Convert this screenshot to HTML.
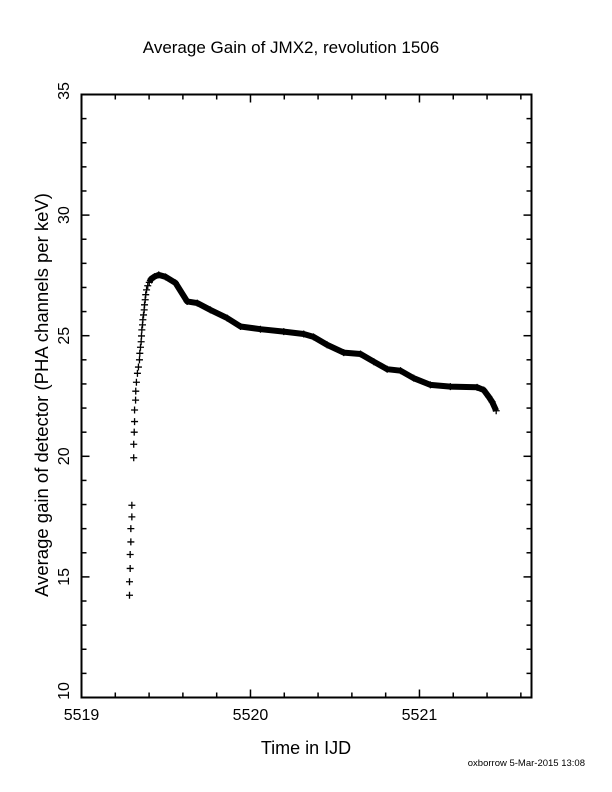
<!DOCTYPE html>
<html><head><meta charset="utf-8"><style>
html,body{margin:0;padding:0;background:#fff}
svg{display:block;font-family:"Liberation Sans",sans-serif}
</style></head><body>
<svg width="612" height="792" viewBox="0 0 612 792">
<text x="291" y="53" font-size="17" text-anchor="middle">Average Gain of JMX2, revolution 1506</text>
<text transform="translate(48,395) rotate(-90)" font-size="18.5" text-anchor="middle">Average gain of detector (PHA channels per keV)</text>
<text x="306" y="754" font-size="18" text-anchor="middle">Time in IJD</text>
<text x="585" y="766" font-size="9.5" text-anchor="end">oxborrow  5-Mar-2015 13:08</text>
<rect x="81.5" y="94.5" width="450" height="603" fill="none" stroke="#000" stroke-width="2"/>
<g id="ticks"></g>
<g id="series"></g>
</svg>
<script>
const xTickLabels=["5519","5520","5521"];
const yTickLabels=["10","15","20","25","30","35"];
const times=[5519.284,5519.284,5519.288,5519.288,5519.292,5519.292,5519.298,5519.298,5519.309,5519.309,5519.312,5519.314,5519.314,5519.320,5519.321,5519.325,5519.331,5519.337,5519.343,5519.345,5519.349,5519.353,5519.355,5519.357,5519.361,5519.363,5519.367,5519.371,5519.373,5519.377,5519.380,5519.385,5519.392,5519.401,5519.412,5519.432,5519.457,5519.497,5519.556,5519.625,5519.685,5519.763,5519.862,5519.941,5520.059,5520.197,5520.315,5520.373,5520.454,5520.552,5520.651,5520.730,5520.809,5520.888,5520.966,5521.065,5521.183,5521.341,5521.380,5521.410,5521.430,5521.454];
const gains=[14.24,14.80,15.35,15.93,16.45,17.00,17.49,17.97,19.94,20.50,21.00,21.44,21.92,22.33,22.70,23.07,23.44,23.70,24.00,24.27,24.52,24.75,24.99,25.24,25.45,25.66,25.86,26.07,26.28,26.49,26.70,26.90,27.07,27.21,27.35,27.45,27.52,27.44,27.19,26.42,26.35,26.07,25.73,25.38,25.27,25.17,25.07,24.95,24.62,24.30,24.24,23.92,23.61,23.55,23.24,22.96,22.89,22.86,22.75,22.47,22.26,21.89];
const X0=81.5,X1=531.5,Y0=697.5,Y1=94.5,TMIN=5519,TMAX=5521.663,GMIN=10,GMAX=35;
function xs(t){return X0+(t-TMIN)/(TMAX-TMIN)*(X1-X0);}
function ys(g){return Y0-(g-GMIN)/(GMAX-GMIN)*(Y0-Y1);}
const NS="http://www.w3.org/2000/svg";
const tk=document.getElementById('ticks');
function line(p,x1,y1,x2,y2,w){const l=document.createElementNS(NS,'line');l.setAttribute('x1',x1);l.setAttribute('y1',y1);l.setAttribute('x2',x2);l.setAttribute('y2',y2);l.setAttribute('stroke','#000');l.setAttribute('stroke-width',w||1.5);p.appendChild(l);return l;}
for(let i=1;i<=13;i++){const t=TMIN+i*0.2;const x=xs(t);const major=(i%5===0);const L=major?8:5;
const a=line(tk,x,Y0,x,Y0-L);


const b=line(tk,x,Y1,x,Y1+L);

}
for(let g=11;g<35;g++){const y=ys(g);const major=(g%5===0);const L=major?8:5;
const a=line(tk,X0,y,X0+L,y);


const b=line(tk,X1,y,X1-L,y);

}
xTickLabels.forEach(s=>{const t=document.createElementNS(NS,'text');t.setAttribute('x',xs(+s));t.setAttribute('y',720);t.setAttribute('font-size','16');t.setAttribute('text-anchor','middle');t.textContent=s;


tk.appendChild(t);});
yTickLabels.forEach(s=>{let y=ys(+s);if(+s===35)y=91;if(+s===10)y=691;const t=document.createElementNS(NS,'text');t.setAttribute('transform','translate(69,'+y+') rotate(-90)');t.setAttribute('font-size','16');t.setAttribute('text-anchor','middle');t.textContent=s;


tk.appendChild(t);});
const sg=document.getElementById('series');
let pts=[];times.forEach((t,i)=>{if(t>=5519.40)pts.push(xs(t).toFixed(1)+','+ys(gains[i]).toFixed(1));});
const pl=document.createElementNS(NS,'polyline');pl.setAttribute('points',pts.join(' '));pl.setAttribute('fill','none');pl.setAttribute('stroke','#000');pl.setAttribute('stroke-width','6');pl.setAttribute('stroke-linejoin','round');


sg.appendChild(pl);
times.forEach((t,i)=>{const x=xs(t),y=ys(gains[i]);const p=document.createElementNS(NS,'path');p.setAttribute('d','M'+(x-3.5)+' '+y+'H'+(x+3.5)+'M'+x+' '+(y-3.5)+'V'+(y+3.5));p.setAttribute('stroke','#000');p.setAttribute('stroke-width','1.3');


sg.appendChild(p);});
</script>
</body></html>
